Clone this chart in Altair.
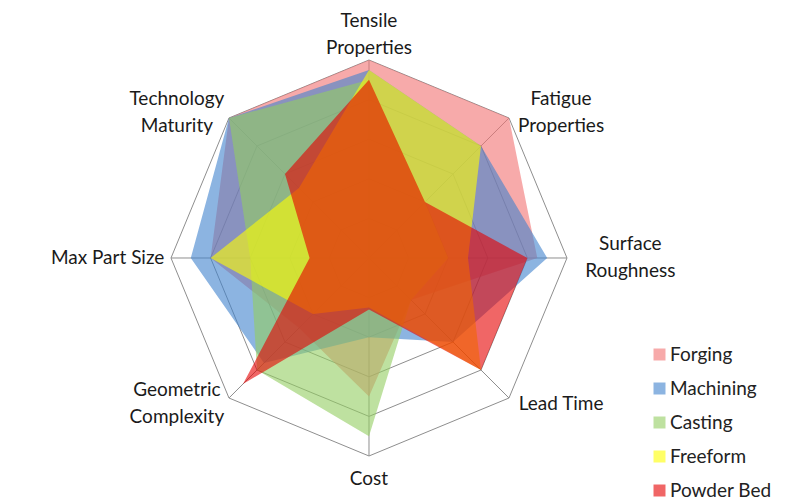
import altair as alt
import pandas as pd

# ---- data ----
axis_labels = ["Tensile\nProperties", "Fatigue\nProperties", "Surface\nRoughness", "Lead Time",
               "Cost", "Geometric\nComplexity", "Max Part Size", "Technology\nMaturity"]
series_names = ["Forging", "Machining", "Casting", "Freeform", "Powder Bed"]
forging    = [5.0, 5.0, 4.25, 1.5, 3.5, 2.5, 4.0, 5.0]
machining  = [4.75, 4.0, 4.5, 3.0, 2.0, 3.75, 4.5, 5.0]
casting    = [4.5, 2.0, 2.0, 1.5, 4.5, 4.0, 3.0, 5.0]
freeform   = [4.75, 4.0, 2.5, 4.0, 1.25, 2.0, 4.0, 2.5]
powder_bed = [4.5, 2.0, 4.0, 4.0, 1.3, 4.5, 1.5, 3.0]
ring_levels = [1, 2, 3, 4, 5]
series_colors = ["#F27171", "#3F82CD", "#93CD61", "#FFFF00", "#E60000"]

all_values = [forging, machining, casting, freeform, powder_bed]
N = len(axis_labels)
RMAX = max(ring_levels)

df_series = pd.DataFrame([
    {"series": s, "idx": i, "value": v}
    for s, vals in zip(series_names, all_values) for i, v in enumerate(vals)
])
df_rings = pd.DataFrame([{"level": L, "idx": i, "value": L} for L in ring_levels for i in range(N)])
df_axes = pd.DataFrame([{"idx": i, "label": lab, "value": RMAX} for i, lab in enumerate(axis_labels)])

W, H = 783, 487
xs = alt.Scale(domain=[-9.116, 10.657], nice=False, zero=False)
ys = alt.Scale(domain=[-5.985, 6.313], nice=False, zero=False)
X = alt.X("px:Q", scale=xs, axis=None)
Y = alt.Y("py:Q", scale=ys, axis=None)

ang = f"2 * PI * datum.idx / {N}"
polar = dict(px=f"datum.value * sin({ang})", py=f"datum.value * cos({ang})")

GRID = "#8E8E8E"
FONT = "Lato"
FS = 19
LH = 27

rings = alt.Chart(df_rings).transform_calculate(**polar).mark_line(
    interpolate="linear-closed", stroke=GRID, strokeWidth=1
).encode(x=X, y=Y, detail="level:N", order="idx:Q")

spokes = alt.Chart(df_axes).transform_calculate(
    **polar, x0="0", y0="0"
).mark_rule(stroke=GRID, strokeWidth=1).encode(
    x=alt.X("x0:Q", scale=xs, axis=None), y=alt.Y("y0:Q", scale=ys, axis=None),
    x2="px:Q", y2="py:Q"
)

color = alt.Color(
    "series:N",
    scale=alt.Scale(domain=series_names, range=series_colors),
    legend=alt.Legend(
        title=None, orient="none", legendX=642, legendY=337,
        symbolType="square", symbolSize=144, symbolStrokeWidth=0, symbolOpacity=0.6,
        labelFont=FONT, labelFontSize=FS, labelColor="#222222", labelOffset=1,
        rowPadding=14, labelLimit=300,
    ),
)

poly_layers = []
for s in series_names:
    poly_layers.append(
        alt.Chart(df_series[df_series.series == s]).transform_calculate(**polar).mark_line(
            interpolate="linear-closed", filled=True, fillOpacity=0.6, strokeWidth=0
        ).encode(x=X, y=Y, order="idx:Q", color=color)
    )

half_line = (LH / 2) / 39.6  # half a line height in data units
labels = alt.Chart(df_axes).transform_calculate(
    c=f"cos({ang})",
    s=f"sin({ang})",
    nl="length(split(datum.label, '\\n'))",
).transform_calculate(
    lx="abs(datum.c) > 0.99 ? 0 : (abs(datum.s) > 0.99 ? 6.6 * datum.s : 6.86 * datum.s)",
    lyc="datum.c > 0.99 ? 5.65 : (datum.c < -0.99 ? -5.58 : 5.2 * datum.c)",
).transform_calculate(
    ly=f"datum.lyc + (datum.nl - 1) * {half_line}",
).mark_text(
    font=FONT, fontSize=FS, color="#1a1a1a", lineBreak="\n", lineHeight=LH,
    align="center", baseline="middle",
).encode(
    x=alt.X("lx:Q", scale=xs, axis=None), y=alt.Y("ly:Q", scale=ys, axis=None), text="label:N"
)

chart = alt.layer(rings, spokes, *poly_layers, labels).properties(
    width=W, height=H, padding=0, background="white"
).configure_view(stroke=None)

chart.save("out.html", embed_options={"renderer": "svg", "actions": False})
